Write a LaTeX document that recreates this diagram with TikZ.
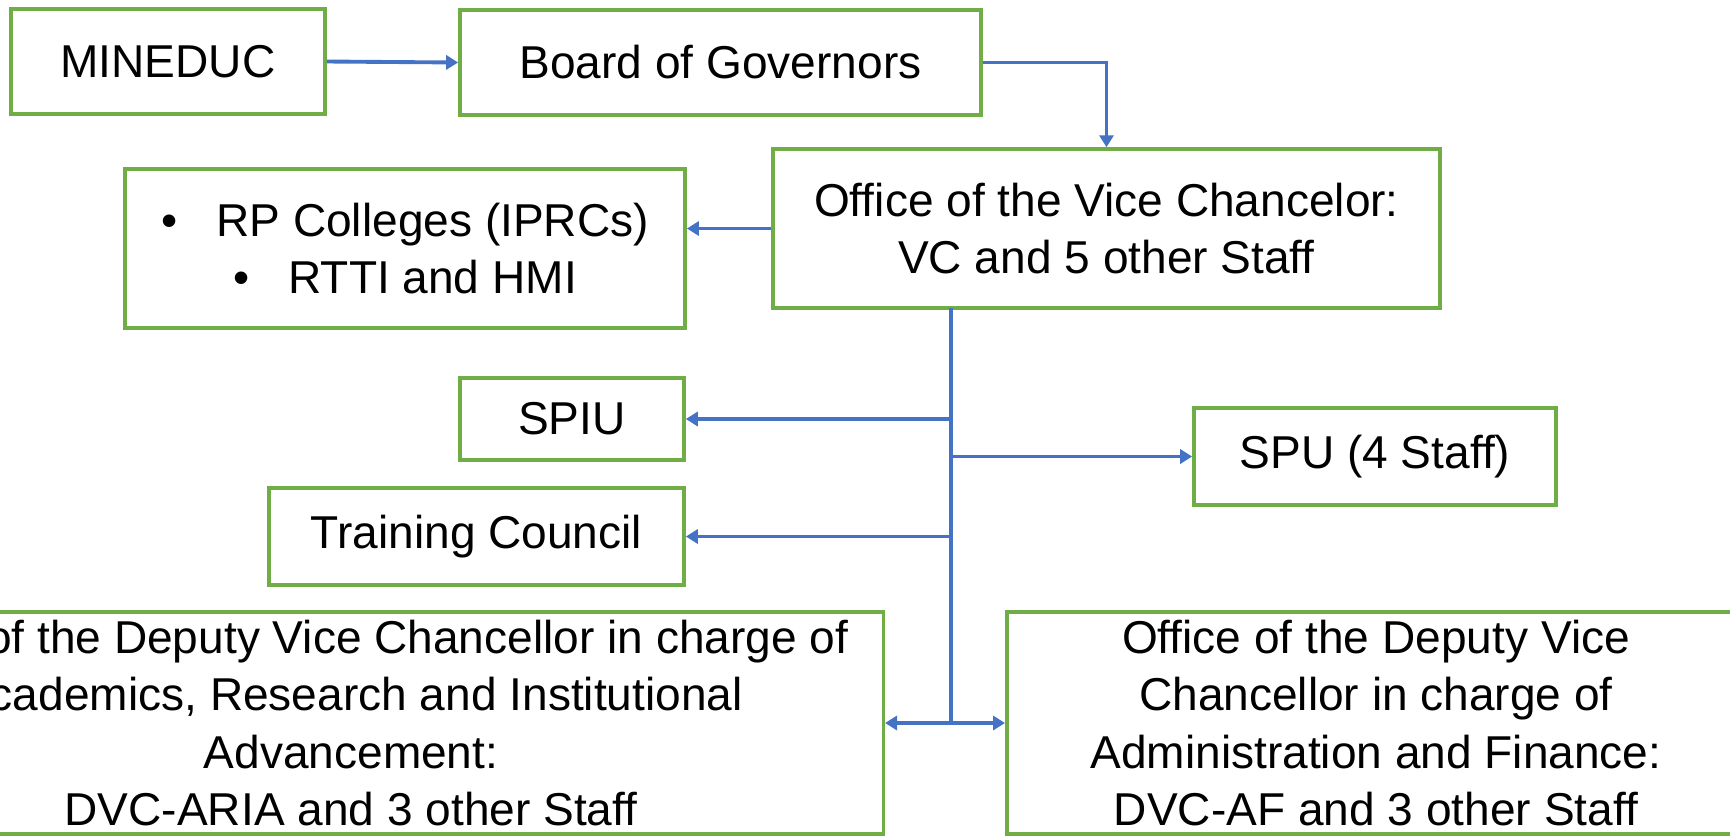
\documentclass[tikz,border=0pt]{standalone}
\usepackage{fontspec}
\setmainfont{Liberation Sans}
\usepackage{tikz}
\usetikzlibrary{positioning}
\usetikzlibrary{arrows.meta}
\usetikzlibrary{calc}
\definecolor{boxgreen}{RGB}{112,173,71}
\definecolor{linkblue}{RGB}{68,114,196}
\tikzstyle{box}=[draw=boxgreen,line width=1pt,align=center,inner sep=0pt,font=\fontsize{13.1}{16.3}\selectfont]
\tikzstyle{arrow}=[-{Triangle[length=3.4pt,width=4pt]},draw=linkblue,line width=1.1pt]
\tikzstyle{link}=[draw=linkblue,line width=1.1pt]

\begin{document}
\begin{tikzpicture}[x=0.01cm,y=-0.01cm]
		\useasboundingbox (0,0) rectangle (1730,835);
		% top row
		\node[box,minimum width=3.14cm,minimum height=1.05cm] (MIN) at (168,61.5) {MINEDUC};
		\node[box,minimum width=5.21cm,minimum height=1.05cm] (BOG) at (720.5,62.5) {Board of Governors};
		\node[box,minimum width=6.67cm,minimum height=1.59cm] (VC) at (1106.5,228.5) {Office of the Vice Chancelor:\\VC and 5 other Staff};
		\node[box,minimum width=5.60cm,minimum height=1.59cm] (RP) at (405,248.5)
			{\textbullet\hspace{0.85em}RP Colleges (IPRCs)\\\textbullet\hspace{0.85em}RTTI and HMI};
		% units
		\node[box,minimum width=2.24cm,minimum height=0.82cm] (SPIU) at (572,419) {SPIU};
		\node[box,minimum width=3.62cm,minimum height=0.97cm] (SPU) at (1375,456.5) {SPU (4 Staff)};
		\node[box,minimum width=4.15cm,minimum height=0.97cm] (TC) at (476.5,536.5) {Training Council};
		% deputies
		\node[box,minimum width=10.64cm,minimum height=2.22cm] (ARIA) at (351,723)
			{Office of the Deputy Vice Chancellor in charge of\\Academics, Research and Institutional\\Advancement:\\DVC-ARIA and 3 other Staff};
		\node[box,minimum width=7.38cm,minimum height=2.22cm] (AF) at (1376,723)
			{Office of the Deputy Vice\\Chancellor in charge of\\Administration and Finance:\\DVC-AF and 3 other Staff};
		% connectors
		\draw[arrow] (MIN.east) -- (BOG.west);
		\draw[arrow] (BOG.east) -| (VC.north);
		\draw[arrow] (VC.west) -- (VC.west -| RP.east);
		\coordinate (T) at (951,308);
		\coordinate (J) at (951,725);
		\draw[link] (T) -- (J);
		\foreach \n in {SPIU,TC} {
			\draw[arrow] (\n.east -| T) -- (\n.east);}
		\draw[arrow] (SPU.west -| T) -- (SPU.west);
		\draw[arrow,{Triangle[length=3.4pt,width=4pt]}-{Triangle[length=3.4pt,width=4pt]}] (ARIA.east) -- (AF.west);
	\end{tikzpicture}
\end{document}
